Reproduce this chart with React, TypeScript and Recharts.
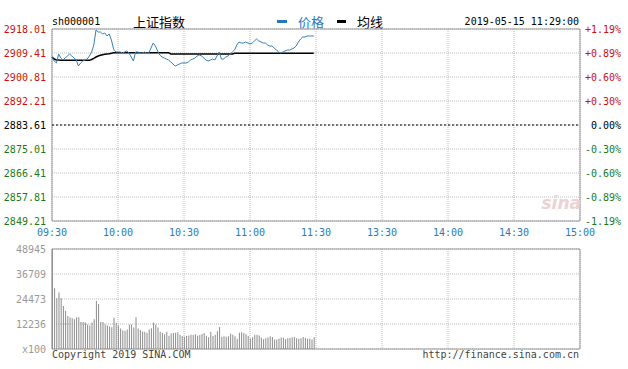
import { ComposedChart, Line, Bar, XAxis, YAxis, CartesianGrid, ReferenceLine, ReferenceArea } from 'recharts'

const MONO = '"DejaVu Sans Mono", monospace'
const CJK = '"Noto Sans CJK SC", sans-serif'
const RED = '#cc1111'
const GREEN = '#1b7a1b'
const BLUE = '#2a7cb6'

const PREV_CLOSE = 2883.61
const TIME_TICKS = [0, 30, 60, 90, 120, 150, 180, 210, 240]
const TIME_LABELS = ['09:30', '10:00', '10:30', '11:00', '11:30', '13:30', '14:00', '14:30', '15:00']
const PRICE_TICKS = [2849.21, 2857.81, 2866.41, 2875.01, 2883.61, 2892.21, 2900.81, 2909.41, 2918.01]
const PCT_LABELS = ['-1.19%', '-0.89%', '-0.60%', '-0.30%', '0.00%', '+0.30%', '+0.60%', '+0.89%', '+1.19%']
const VOLUME_TICKS = [0, 12236, 24473, 36709, 48945]
const VOLUME_LABELS = ['x100', '12236', '24473', '36709', '48945']

// one value per minute, 09:30 .. 11:29
const PRICE = [
  2907.98, 2906.54, 2905.83, 2909.05, 2907.62, 2906.9, 2907.62, 2908.33, 2909.05, 2908.33,
  2907.62, 2906.9, 2904.75, 2905.83, 2906.54, 2906.9, 2907.26, 2908.33, 2909.77, 2912.28,
  2917.65, 2916.93, 2916.93, 2916.22, 2916.58, 2915.5, 2916.22, 2914.07, 2910.84, 2909.77,
  2909.77, 2909.77, 2909.41, 2909.77, 2910.13, 2909.41, 2907.98, 2906.54, 2909.77, 2909.77,
  2909.41, 2909.41, 2909.77, 2909.41, 2909.41, 2911.2, 2912.99, 2911.92, 2910.13, 2908.69,
  2907.98, 2907.62, 2907.26, 2906.9, 2906.18, 2905.47, 2904.75, 2905.11, 2905.47, 2905.83,
  2905.83, 2905.83, 2906.18, 2906.9, 2907.26, 2907.62, 2908.33, 2908.69, 2908.33, 2907.62,
  2906.9, 2906.54, 2906.9, 2907.26, 2906.9, 2908.33, 2909.77, 2907.26, 2907.26, 2907.98,
  2908.33, 2909.05, 2909.77, 2910.48, 2912.28, 2913.35, 2912.99, 2912.99, 2913.35, 2912.99,
  2912.63, 2912.99, 2913.71, 2914.43, 2913.71, 2913.35, 2912.99, 2912.99, 2912.28, 2911.92,
  2911.92, 2911.2, 2910.48, 2909.77, 2909.41, 2909.77, 2910.13, 2910.48, 2910.48, 2910.84,
  2911.2, 2911.92, 2913.35, 2914.43, 2915.14, 2915.14, 2915.5, 2915.5, 2915.5, 2915.5,
]

const AVG = [
  2907.98, 2907.26, 2906.9, 2906.9, 2906.78, 2906.78, 2906.78, 2906.78, 2906.78, 2906.78,
  2906.78, 2906.78, 2906.78, 2906.78, 2906.78, 2906.78, 2906.78, 2906.78, 2907.08, 2907.51,
  2907.98, 2908.33, 2908.58, 2908.8, 2908.94, 2909.05, 2909.16, 2909.3, 2909.52, 2909.52,
  2909.52, 2909.52, 2909.52, 2909.52, 2909.52, 2909.52, 2909.52, 2909.52, 2909.52, 2909.52,
  2909.52, 2909.52, 2909.52, 2909.52, 2909.52, 2909.52, 2909.52, 2909.52, 2909.52, 2909.52,
  2909.52, 2909.52, 2909.52, 2909.52, 2909.05, 2909.05, 2909.05, 2909.05, 2909.05, 2909.05,
  2909.05, 2909.05, 2909.05, 2909.05, 2909.05, 2909.05, 2909.05, 2909.05, 2909.05, 2909.05,
  2909.05, 2909.05, 2909.05, 2909.05, 2909.05, 2909.05, 2909.05, 2909.05, 2909.05, 2909.05,
  2909.05, 2909.05, 2909.05, 2909.3, 2909.3, 2909.3, 2909.3, 2909.3, 2909.3, 2909.3,
  2909.3, 2909.3, 2909.3, 2909.3, 2909.3, 2909.3, 2909.3, 2909.3, 2909.3, 2909.3,
  2909.3, 2909.3, 2909.3, 2909.3, 2909.3, 2909.3, 2909.3, 2909.3, 2909.3, 2909.3,
  2909.3, 2909.3, 2909.3, 2909.3, 2909.3, 2909.3, 2909.3, 2909.3, 2909.3, 2909.3,
]

const VOLUME = [
  48945, 29700, 24800, 27600, 24800, 21000, 18700, 16100, 15500, 15000,
  14500, 15500, 15500, 13200, 13200, 13000, 12000, 11500, 13000, 14500,
  23500, 22000, 13200, 13200, 12000, 11500, 11000, 10700, 15300, 12800,
  11500, 10000, 9000, 8800, 9600, 11900, 12000, 10500, 15600, 10000,
  9200, 8600, 8400, 8000, 9500, 10200, 13000, 12000, 10500, 8500,
  7800, 7200, 8500, 6500, 7600, 7800, 8000, 8200, 7000, 6400,
  6000, 6400, 6600, 7000, 6800, 7200, 6500, 6800, 7300, 7800,
  6500, 5800, 8500, 6400, 7000, 8700, 10800, 6000, 6200, 6000,
  6200, 7500, 7000, 6200, 5000, 8000, 8200, 7800, 7200, 6400,
  5200, 5800, 6800, 7000, 6600, 5500, 4800, 5300, 5600, 6300,
  5900, 4700, 4600, 5000, 5600, 5500, 4800, 5300, 5400, 5700,
  5800, 5300, 5000, 5300, 5900, 5400, 5000, 5200, 4600, 5800,
]

const rows = PRICE.map((p, i) => ({ t: i, price: p, avg: AVG[i], vol: VOLUME[i] }))

function PriceTick({ y, payload }: any) {
  const v = payload.value
  const fill = v > PREV_CLOSE + 0.001 ? RED : v < PREV_CLOSE - 0.001 ? GREEN : '#000'
  return (
    <text x={46} y={y} dy={4} textAnchor="end" fill={fill} fontSize={10} fontFamily={MONO}>
      {v.toFixed(2)}
    </text>
  )
}

function PctTick({ y, payload }: any) {
  const v = payload.value
  const fill = v > PREV_CLOSE + 0.001 ? RED : v < PREV_CLOSE - 0.001 ? GREEN : '#000'
  return (
    <text x={621} y={y} dy={4} textAnchor="end" fill={fill} fontSize={10} fontFamily={MONO}>
      {PCT_LABELS[PRICE_TICKS.indexOf(v)]}
    </text>
  )
}

function VolumeTick({ y, payload }: any) {
  return (
    <text x={46} y={y} dy={4} textAnchor="end" fill="#999" fontSize={10} fontFamily={MONO}>
      {VOLUME_LABELS[VOLUME_TICKS.indexOf(payload.value)]}
    </text>
  )
}

const txt = (left: number, top: number, extra: any = {}) => ({
  position: 'absolute' as const,
  left,
  top,
  lineHeight: '12px',
  fontSize: 10,
  fontFamily: MONO,
  color: '#000',
  whiteSpace: 'nowrap' as const,
  ...extra,
})

export default function App() {
  return (
    <div style={{ position: 'absolute', left: 0, top: 0, width: 628, height: 369, background: '#fff', overflow: 'hidden' }}>
      <span style={txt(52, 16)}>sh000001</span>
      <span style={txt(133, 14, { fontFamily: CJK, fontSize: 13, lineHeight: '16px' })}>上证指数</span>
      <span style={{ position: 'absolute', left: 277, top: 20, width: 10, height: 3, background: '#2878c0' }} />
      <span style={txt(298, 14, { fontFamily: CJK, fontSize: 13, lineHeight: '16px', color: '#2878c0' })}>价格</span>
      <span style={{ position: 'absolute', left: 337, top: 20, width: 9, height: 3, background: '#000' }} />
      <span style={txt(357, 14, { fontFamily: CJK, fontSize: 13, lineHeight: '16px' })}>均线</span>
      <span style={txt(0, 16, { width: 579, textAlign: 'right' })}>2019-05-15 11:29:00</span>

      <div style={{ position: 'absolute', left: 0, top: 0 }}>
        <ComposedChart width={628} height={240} data={rows} margin={{ top: 29, right: 0, bottom: 0, left: 0 }}>
          <CartesianGrid yAxisId="l" stroke="#bbb" strokeDasharray="1 1" />
          <XAxis
            type="number"
            dataKey="t"
            domain={[0, 240]}
            ticks={TIME_TICKS}
            interval={0}
            height={19}
            axisLine={false}
            tickLine={false}
            tickFormatter={(v) => TIME_LABELS[TIME_TICKS.indexOf(v)]}
            tick={{ fill: BLUE, fontSize: 10, fontFamily: MONO }}
          />
          <YAxis yAxisId="l" width={52} domain={[PRICE_TICKS[0], PRICE_TICKS[8]]} ticks={PRICE_TICKS} interval={0} axisLine={false} tickLine={false} tick={<PriceTick />} />
          <YAxis yAxisId="r" orientation="right" width={48} domain={[PRICE_TICKS[0], PRICE_TICKS[8]]} ticks={PRICE_TICKS} interval={0} axisLine={false} tickLine={false} tick={<PctTick />} />
          <ReferenceLine yAxisId="l" y={PREV_CLOSE} stroke="#000" strokeDasharray="2 2" />
          <ReferenceArea yAxisId="l" x1={0} x2={240} y1={PRICE_TICKS[0]} y2={PRICE_TICKS[8]} fill="none" stroke="#999" strokeOpacity={1} />
          <Line yAxisId="l" dataKey="avg" stroke="#000" strokeWidth={1.5} dot={false} isAnimationActive={false} />
          <Line yAxisId="l" dataKey="price" stroke="#3a80b6" strokeWidth={1} dot={false} isAnimationActive={false} />
          <Line yAxisId="r" dataKey="price" stroke="none" dot={false} isAnimationActive={false} />
        </ComposedChart>
      </div>

      <span style={txt(0, 193, { width: 581, textAlign: 'right', fontFamily: '"DejaVu Sans", sans-serif', fontSize: 17, lineHeight: '20px', fontStyle: 'italic', fontWeight: 'bold', color: '#ecd2d2' })}>sina</span>

      <div style={{ position: 'absolute', left: 0, top: 240 }}>
        <ComposedChart width={628} height={129} data={rows} margin={{ top: 9, right: 48, bottom: 20, left: 0 }}>
          <CartesianGrid stroke="#bbb" strokeDasharray="1 1" />
          <XAxis type="number" dataKey="t" domain={[0, 240]} ticks={TIME_TICKS} interval={0} hide />
          <YAxis width={52} domain={[0, 48945]} ticks={VOLUME_TICKS} interval={0} axisLine={false} tickLine={false} tick={<VolumeTick />} />
          <Bar dataKey="vol" fill="#8c8c8c" barSize={1} isAnimationActive={false} />
          <ReferenceArea x1={0} x2={240} y1={0} y2={48945} fill="none" stroke="#999" strokeOpacity={1} />
        </ComposedChart>
      </div>

      <span style={txt(52, 349, { color: '#444' })}>Copyright 2019 SINA.COM</span>
      <span style={txt(0, 349, { width: 579, textAlign: 'right', color: '#444' })}>http://finance.sina.com.cn</span>
    </div>
  )
}
